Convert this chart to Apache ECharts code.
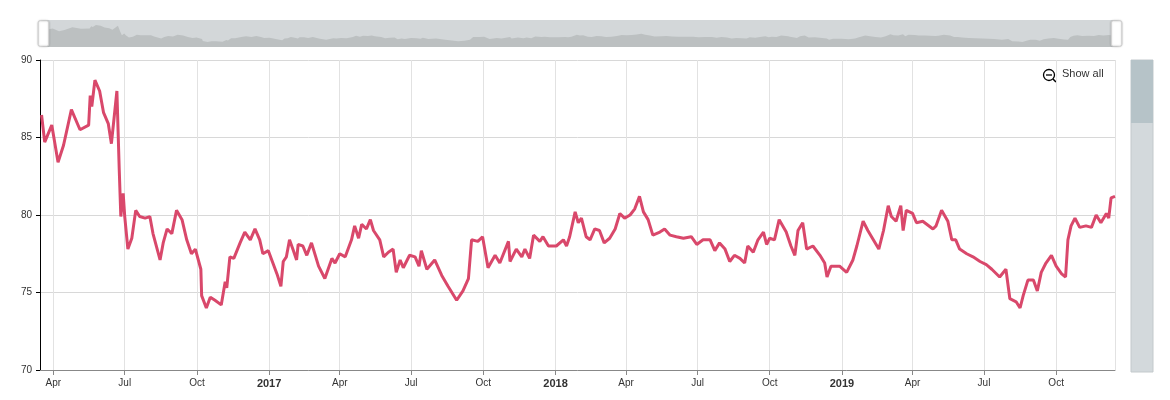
<!DOCTYPE html>
<html>
<head>
<meta charset="utf-8">
<script src="https://cdn.jsdelivr.net/npm/echarts@6/dist/echarts.min.js"></script>
<style>html,body{margin:0;padding:0;background:#fff}#main{width:1170px;height:400px}</style>
</head>
<body>
<div id="main"></div>
<script>
// days since 2016-03-15 and values
var startDate = '2016-03-15';
var days = [2,6,15,23,30,40,51,62,64,66,70,76,81,87,91,98,101,103,106,108,112,117,122,127,134,140,144,153,157,162,168,174,181,187,193,198,205,206,212,217,223,231,236,238,242,247,255,261,268,274,280,284,291,302,307,310,314,318,323,327,329,335,340,346,355,363,372,376,382,389,397,401,406,410,416,421,425,433,438,444,450,454,459,463,471,478,483,486,493,503,512,520,531,539,546,550,558,564,571,580,586,597,599,607,614,618,624,629,637,641,648,658,667,671,675,682,686,690,696,701,707,713,719,726,733,739,745,752,758,764,769,775,781,790,796,803,811,820,830,837,845,854,860,866,873,879,885,892,898,902,909,915,922,926,930,936,942,951,953,957,962,966,972,977,985,994,1000,1003,1008,1019,1028,1036,1041,1049,1055,1062,1069,1075,1081,1085,1091,1097,1100,1104,1112,1117,1125,1138,1142,1149,1157,1162,1167,1172,1181,1189,1198,1206,1213,1223,1231,1236,1244,1249,1253,1259,1266,1271,1276,1282,1289,1295,1302,1307,1310,1314,1319,1325,1333,1340,1346,1352,1359,1362,1365,1370];
var values = [86.45,84.7,85.8,83.4,84.5,86.8,85.5,85.8,87.7,87.0,88.7,88.0,86.6,85.9,84.6,88.0,82.9,79.9,81.4,79.9,77.8,78.5,80.3,79.9,79.8,79.9,78.8,77.1,78.2,79.1,78.8,80.3,79.7,78.4,77.5,77.8,76.5,74.8,74.0,74.7,74.5,74.2,75.7,75.3,77.3,77.2,78.2,78.9,78.4,79.1,78.4,77.5,77.7,76.2,75.4,77.0,77.3,78.4,77.7,77.1,78.1,78.0,77.4,78.2,76.7,75.9,77.2,76.9,77.5,77.3,78.4,79.3,78.5,79.4,79.1,79.7,79.0,78.4,77.3,77.6,77.8,76.3,77.1,76.6,77.4,77.3,76.7,77.7,76.5,77.1,76.1,75.4,74.5,75.1,75.9,78.4,78.3,78.6,76.6,77.4,76.9,78.3,77.0,77.8,77.3,77.8,77.2,78.7,78.3,78.6,78.0,78.0,78.4,78.0,78.6,80.2,79.5,79.8,78.6,78.4,79.1,79.0,78.2,78.5,79.1,80.1,79.8,80.0,80.4,81.2,80.2,79.7,78.7,78.9,79.1,78.7,78.6,78.5,78.6,78.1,78.4,78.4,77.7,78.2,77.8,77.0,77.4,77.2,76.9,78.0,77.6,78.4,78.9,78.1,78.5,78.4,79.7,78.9,78.6,78.0,77.4,79.0,79.5,77.8,78.0,77.4,76.9,76.0,76.7,76.7,76.3,77.1,78.0,79.6,79.0,78.4,77.8,79.0,80.6,79.9,79.6,80.6,79.0,80.3,80.1,79.5,79.6,79.1,79.3,80.3,79.6,78.4,78.4,77.8,77.5,77.3,77.0,76.8,76.5,76.0,76.5,74.6,74.4,74.0,74.8,75.8,75.8,75.1,76.3,76.9,77.4,76.7,76.2,76.0,78.4,79.3,79.8,79.2,79.3,79.2,80.0,79.5,80.1,79.8,81.1,81.2];
var yMin = 70, yMax = 90, yStep = 5;

var DAY = 24 * 3600 * 1000;
var t0 = +new Date(startDate + 'T00:00:00Z');
var seriesData = days.map(function (d, i) { return [t0 + d * DAY, values[i]]; });

var chart = echarts.init(document.getElementById('main'));
chart.setOption({
  animation: false,
  grid: { left: 40, right: 55, top: 60, bottom: 30 },
  xAxis: {
    type: 'time',
    min: t0,
    max: t0 + days[days.length - 1] * DAY,
    splitNumber: 8,
    axisLine: { lineStyle: { color: '#888' } },
    axisTick: { show: true, lineStyle: { color: '#888' } },
    splitLine: { show: true, lineStyle: { color: '#e2e2e2' } },
    axisLabel: {
      color: '#333', fontSize: 10, fontFamily: 'Arial, Liberation Sans',
      formatter: { year: '{y|{yyyy}}', month: '{MMM}' },
      rich: { y: { fontWeight: 'bold', fontSize: 11, color: '#333' } }
    }
  },
  yAxis: {
    type: 'value',
    min: yMin, max: yMax, interval: yStep,
    axisLine: { show: true, lineStyle: { color: '#000' } },
    axisTick: { show: true, length: 4, lineStyle: { color: '#000' } },
    splitLine: { lineStyle: { color: '#d8d8d8' } },
    axisLabel: { color: '#333', fontSize: 10, margin: 8, fontFamily: 'Arial, Liberation Sans' }
  },
  dataZoom: [{
    type: 'slider', xAxisIndex: 0, top: 20, height: 27, left: 40, right: 55,
    start: 0, end: 100, showDetail: false, brushSelect: false,
    moveHandleSize: 0,
    backgroundColor: '#d3d7d9', borderColor: 'transparent', fillerColor: 'rgba(0,0,0,0)',
    dataBackground: { lineStyle: { opacity: 0 }, areaStyle: { color: '#bcc0c1', opacity: 1 } },
    selectedDataBackground: { lineStyle: { opacity: 0 }, areaStyle: { color: '#bcc0c1', opacity: 1 } },
    handleIcon: 'path://M2,0 L8,0 Q10,0 10,2 L10,22 Q10,24 8,24 L2,24 Q0,24 0,22 L0,2 Q0,0 2,0 Z',
    handleSize: '95%',
    handleStyle: { color: '#fff', borderColor: '#ccc', shadowBlur: 2, shadowColor: 'rgba(0,0,0,0.2)' }
  }],
  graphic: [
    { type: 'rect', shape: { x: 1131, y: 60, width: 22, height: 312 }, style: { fill: '#d3d9dc', stroke: '#c3c9cc' } },
    { type: 'rect', shape: { x: 1131, y: 60, width: 22, height: 63 }, style: { fill: '#b6c3c8' } },
    { type: 'circle', shape: { cx: 1049, cy: 75, r: 5.5 }, style: { fill: 'none', stroke: '#000', lineWidth: 1.3 } },
    { type: 'line', shape: { x1: 1046, y1: 75, x2: 1052, y2: 75 }, style: { stroke: '#000', lineWidth: 1.3 } },
    { type: 'line', shape: { x1: 1053, y1: 79, x2: 1056, y2: 82 }, style: { stroke: '#000', lineWidth: 1.5 } },
    { type: 'text', x: 1062, y: 68, style: { text: 'Show all', fill: '#333', fontSize: 11, fontFamily: 'Arial, Liberation Sans' } }
  ],
  series: [{
    type: 'line',
    data: seriesData,
    showSymbol: false,
    lineStyle: { color: '#d9486b', width: 3 },
    itemStyle: { color: '#d9486b' }
  }]
});
</script>
</body>
</html>
